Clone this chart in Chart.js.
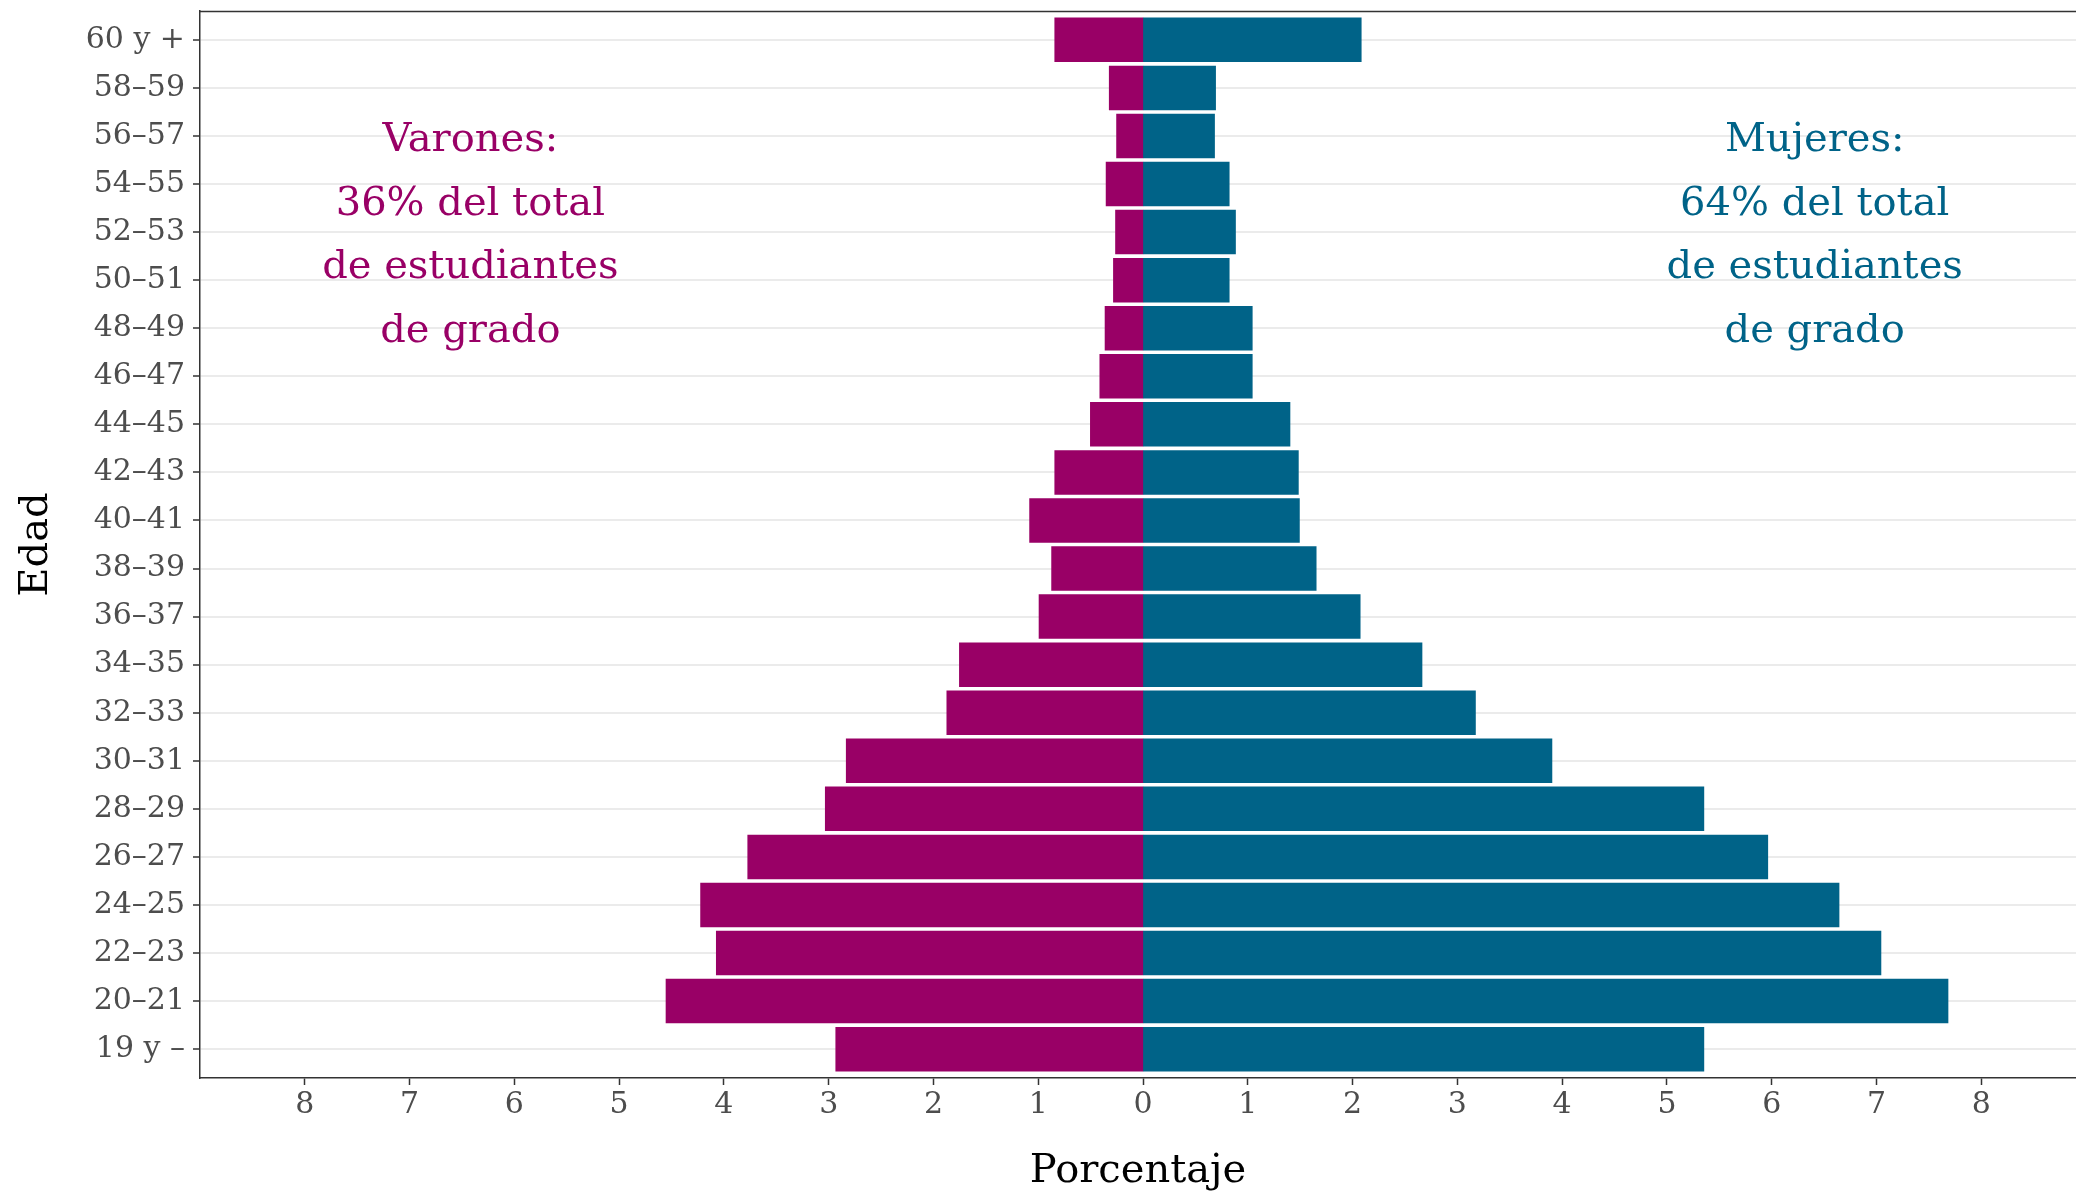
<!DOCTYPE html>
<html lang="es">
<head>
<meta charset="utf-8">
<title>Pirámide de edades — estudiantes de grado</title>
<script src="https://cdn.jsdelivr.net/npm/chart.js@4.4.1/dist/chart.umd.min.js"></script>
<style>
  html, body { margin: 0; padding: 0; background: #fff; }
  #wrap { width: 2076px; height: 1195px; position: relative; }
</style>
</head>
<body>
<div id="wrap"><canvas id="chart-piramide"></canvas></div>
<script>
'use strict';

// Age groups, top to bottom
const ageGroups = ['60 y +', '58–59', '56–57', '54–55', '52–53', '50–51', '48–49', '46–47',
  '44–45', '42–43', '40–41', '38–39', '36–37', '34–35', '32–33', '30–31',
  '28–29', '26–27', '24–25', '22–23', '20–21', '19 y –'];

// Percent of all undergrad students
const varones = [0.84, 0.32, 0.25, 0.35, 0.26, 0.28, 0.36, 0.41, 0.50, 0.84, 1.08, 0.87,
  0.99, 1.75, 1.87, 2.83, 3.03, 3.77, 4.22, 4.07, 4.55, 2.93];
const mujeres = [2.08, 0.69, 0.68, 0.82, 0.88, 0.82, 1.04, 1.04, 1.40, 1.48, 1.49, 1.65,
  2.07, 2.66, 3.17, 3.90, 5.35, 5.96, 6.64, 7.04, 7.68, 5.35];

const xTicks = [-8, -7, -6, -5, -4, -3, -2, -1, 0, 1, 2, 3, 4, 5, 6, 7, 8];

const notaVarones = ['Varones:', '36% del total', 'de estudiantes', 'de grado'];
const notaMujeres = ['Mujeres:', '64% del total', 'de estudiantes', 'de grado'];

const COL_V = '#990066';
const COL_M = '#006388';
const SERIF = '"DejaVu Serif", serif';

// Text blocks + panel top border
const notesPlugin = {
  id: 'notes',
  afterDatasetsDraw(chart) {
    const { ctx, chartArea, scales: { x, y } } = chart;
    ctx.save();
    ctx.strokeStyle = '#333333';
    ctx.lineWidth = 1.5;
    ctx.beginPath();
    ctx.moveTo(chartArea.left, chartArea.top + 0.5);
    ctx.lineTo(chartArea.right, chartArea.top + 0.5);
    ctx.stroke();

    ctx.font = '40px ' + SERIF;
    ctx.textAlign = 'center';
    ctx.textBaseline = 'middle';
    const cy = y.getPixelForValue(4) + 4;
    [[notaVarones, -6.42, COL_V], [notaMujeres, 6.41, COL_M]].forEach(([lines, xv, col]) => {
      const cx = x.getPixelForValue(xv);
      ctx.fillStyle = col;
      lines.forEach((t, i) => ctx.fillText(t, cx, cy + (i - (lines.length - 1) / 2) * 63.5));
    });
    ctx.restore();
  }
};

new Chart(document.getElementById('chart-piramide'), {
  type: 'bar',
  data: {
    datasets: [
      { label: 'Varones', data: varones.map((v, i) => ({ x: -v, y: i })), backgroundColor: COL_V },
      { label: 'Mujeres', data: mujeres.map((v, i) => ({ x: v, y: i })), backgroundColor: COL_M },
    ]
  },
  options: {
    indexAxis: 'y',
    responsive: true, maintainAspectRatio: false, animation: false,
    layout: { padding: { top: 11, right: 0, bottom: 0, left: 0 } },
    datasets: { bar: { grouped: false, barPercentage: 0.9, categoryPercentage: 1, inflateAmount: 0.6 } },
    plugins: { legend: { display: false }, tooltip: { enabled: false } },
    scales: {
      x: {
        type: 'linear', min: -9.0, max: 8.904,
        afterBuildTicks: s => { s.ticks = xTicks.map(v => ({ value: v })); },
        afterFit: s => { s.height = 117; s.paddingLeft = 0; s.paddingRight = 0; },
        ticks: { color: '#4D4D4D', font: { family: SERIF, size: 30 }, padding: 2,
                 callback: v => String(Math.abs(v)) },
        grid: { offset: false, drawOnChartArea: false, drawTicks: true, tickLength: 7, tickColor: '#333333', tickWidth: 1.5 },
        border: { display: true, color: '#333333', width: 1.5 },
        title: { display: true, text: 'Porcentaje', color: '#000',
                 font: { family: SERIF, size: 40, lineHeight: 1 }, padding: { top: 0, bottom: 3 } }
      },
      y: {
        type: 'linear', reverse: true, offset: false, min: -0.6, max: ageGroups.length - 0.4,
        afterBuildTicks: s => { s.ticks = ageGroups.map((c, i) => ({ value: i })); },
        afterFit: s => { s.width = 200; s.paddingTop = 0; s.paddingBottom = 0; },
        ticks: { color: '#4D4D4D', font: { family: SERIF, size: 30 }, padding: 8,
                 callback: v => ageGroups[v] ?? '' },
        grid: { offset: false, color: '#EBEBEB', lineWidth: 2, drawTicks: true, tickLength: 7, tickColor: '#333333', tickWidth: 1.5 },
        border: { display: true, color: '#333333', width: 1.5 },
        title: { display: true, text: 'Edad', color: '#000',
                 font: { family: SERIF, size: 40, lineHeight: 1 }, padding: { top: 17, bottom: 0 } }
      }
    }
  },
  plugins: [notesPlugin]
});
</script>
</body>
</html>
